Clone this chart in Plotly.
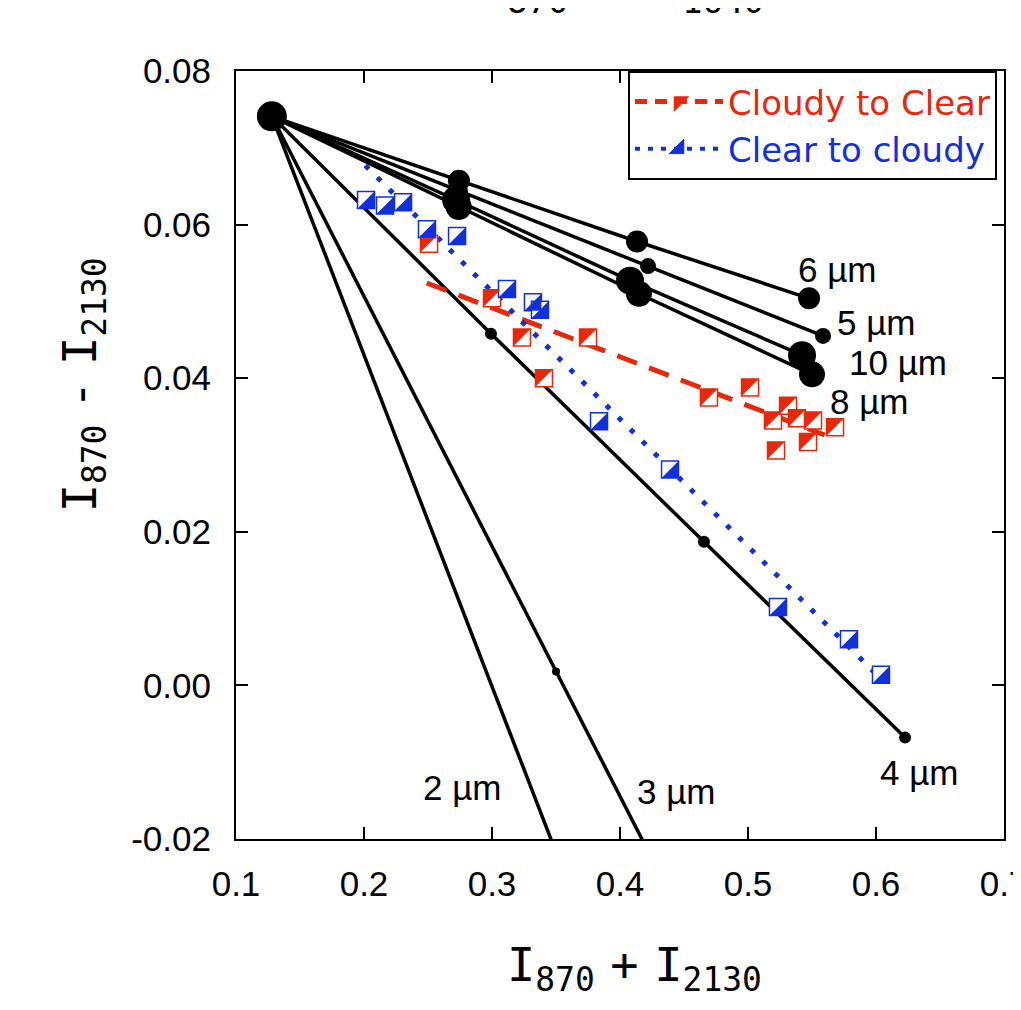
import plotly.graph_objects as go

# ---------------- data ----------------
origin_x = [0.128]
origin_y = [0.0741]

x_2um = [0.128, 0.362]
y_2um = [0.0741, -0.0269]
x_3um = [0.128, 0.350, 0.430]
y_3um = [0.0741, 0.0018, -0.0242]
x_4um = [0.128, 0.2992, 0.4656, 0.6227]
y_4um = [0.0741, 0.0458, 0.0187, -0.0068]
x_5um = [0.128, 0.2750, 0.4219, 0.5586]
y_5um = [0.0741, 0.0643, 0.0546, 0.0455]
x_6um = [0.128, 0.2742, 0.4133, 0.5477]
y_6um = [0.0741, 0.0657, 0.0578, 0.0504]
x_8um = [0.128, 0.2740, 0.4148, 0.5500]
y_8um = [0.0741, 0.0623, 0.0510, 0.0405]
x_10um = [0.128, 0.2720, 0.4078, 0.5422]
y_10um = [0.0741, 0.0632, 0.0527, 0.0430]

red_x = [0.2508, 0.3000, 0.3234, 0.3406, 0.3750, 0.4695, 0.5016, 0.5195,
         0.5313, 0.5383, 0.5508, 0.5469, 0.5219, 0.5680]
red_y = [0.0575, 0.0504, 0.0453, 0.0400, 0.0453, 0.0375, 0.0388, 0.0345,
         0.0364, 0.0348, 0.0345, 0.0317, 0.0306, 0.0336]
red_fit_x = [0.249, 0.560]
red_fit_y = [0.0524, 0.0326]

blue_x = [0.2016, 0.2164, 0.2305, 0.2492, 0.2727, 0.3117, 0.3320, 0.3375,
          0.3836, 0.4391, 0.5234, 0.5789, 0.6039]
blue_y = [0.0632, 0.0625, 0.0629, 0.0594, 0.0585, 0.0516, 0.0499, 0.0489,
          0.0344, 0.0281, 0.0102, 0.0060, 0.0014]
blue_fit_x = [0.201, 0.600]
blue_fit_y = [0.0677, 0.0015]

x_ticks = [0.1, 0.2, 0.3, 0.4, 0.5, 0.6, 0.7]
x_ticktext = ["0.1", "0.2", "0.3", "0.4", "0.5", "0.6", "0.7"]
y_ticks = [-0.02, 0.0, 0.02, 0.04, 0.06, 0.08]
y_ticktext = ["-0.02", "0.00", "0.02", "0.04", "0.06", "0.08"]

size_labels = ["2 µm", "3 µm", "4 µm", "5 µm", "6 µm", "8 µm", "10 µm"]
size_label_x = [0.2766, 0.4445, 0.6336, 0.6000, 0.5703, 0.5953, 0.6172]
size_label_y = [-0.0133, -0.0138, -0.0113, 0.0472, 0.0541, 0.0370, 0.0420]

# ---------------- style ----------------
RED = "#E6290C"
BLUE = "#1230DA"
X_RANGE = [0.1, 0.7]
Y_RANGE = [-0.02, 0.08]
PLOT_W = 768
PLOT_H = 768
SQ = 17                      # square marker size (px)
TRI = SQ / 0.9               # right-triangle marker size whose legs equal SQ
SHIFT = 0.15 * TRI           # centering offset of plotly's right-triangle symbols (px)
kx = (X_RANGE[1] - X_RANGE[0]) / PLOT_W
ky = (Y_RANGE[1] - Y_RANGE[0]) / PLOT_H

fig = go.Figure()

lines = [
    (x_2um, y_2um, 0), (x_3um, y_3um, 8), (x_4um, y_4um, 12),
    (x_5um, y_5um, 16), (x_6um, y_6um, 22), (x_8um, y_8um, 26),
    (x_10um, y_10um, 28),
]
for xs, ys, ms in lines:
    fig.add_trace(go.Scatter(
        x=xs, y=ys, mode="lines+markers" if ms else "lines",
        line=dict(color="black", width=3.5),
        marker=dict(color="black", size=ms, line=dict(width=0)),
        showlegend=False, hoverinfo="skip"))

fig.add_trace(go.Scatter(x=origin_x, y=origin_y, mode="markers",
                         marker=dict(color="black", size=30),
                         showlegend=False, hoverinfo="skip"))

fig.add_trace(go.Scatter(x=red_fit_x, y=red_fit_y, mode="lines",
                         line=dict(color=RED, width=5, dash="21px,13px"),
                         showlegend=False, hoverinfo="skip"))
fig.add_trace(go.Scatter(x=blue_fit_x, y=blue_fit_y, mode="lines",
                         line=dict(color=BLUE, width=5, dash="5px,12px"),
                         showlegend=False, hoverinfo="skip"))

# red half-filled squares
fig.add_trace(go.Scatter(x=red_x, y=red_y, mode="markers",
                         marker=dict(symbol="square", size=SQ, color="white",
                                     line=dict(color=RED, width=1.5)),
                         showlegend=False, hoverinfo="skip"))
fig.add_trace(go.Scatter(x=red_x, y=red_y, mode="markers", xaxis="x2", yaxis="y2",
                         marker=dict(symbol="triangle-nw", size=TRI, color=RED,
                                     line=dict(width=0)),
                         showlegend=False, hoverinfo="skip"))
# blue half-filled squares
fig.add_trace(go.Scatter(x=blue_x, y=blue_y, mode="markers",
                         marker=dict(symbol="square", size=SQ, color="white",
                                     line=dict(color=BLUE, width=1.5)),
                         showlegend=False, hoverinfo="skip"))
fig.add_trace(go.Scatter(x=blue_x, y=blue_y, mode="markers", xaxis="x3", yaxis="y3",
                         marker=dict(symbol="triangle-se", size=TRI, color=BLUE,
                                     line=dict(width=0)),
                         showlegend=False, hoverinfo="skip"))

# legend entries
fig.add_trace(go.Scatter(x=[None], y=[None], mode="lines+markers",
                         name=f"<span style='color:{RED}'>Cloudy to Clear</span>",
                         line=dict(color=RED, width=5, dash="12px,8px"),
                         marker=dict(symbol="triangle-nw", size=18, color=RED,
                                     line=dict(color=RED, width=1))))
fig.add_trace(go.Scatter(x=[None], y=[None], mode="lines+markers",
                         name=f"<span style='color:{BLUE}'>Clear to cloudy</span>",
                         line=dict(color=BLUE, width=4, dash="5px,8px"),
                         marker=dict(symbol="triangle-se", size=18, color=BLUE,
                                     line=dict(color=BLUE, width=1))))

axis_common = dict(showline=True, linecolor="black", linewidth=2, mirror="ticks",
                   ticks="inside", ticklen=12, tickwidth=2, tickcolor="black",
                   showgrid=False, zeroline=False, ticklabeloverflow="allow",
                   automargin=False,
                   tickfont=dict(family="Liberation Sans", size=35, color="black"))
hidden = dict(visible=False, showgrid=False, zeroline=False)

# the page body adds an 8 px offset; margins compensate so the plot box sits at 236..1004 x 71..839
fig.update_layout(
    width=1021, height=1010,
    margin=dict(l=228, r=25, t=63, b=179, pad=0, autoexpand=False),
    paper_bgcolor="white", plot_bgcolor="white",
    xaxis=dict(range=X_RANGE, tickvals=x_ticks, ticktext=x_ticktext,
               ticklabelstandoff=13, **axis_common),
    yaxis=dict(range=Y_RANGE, tickvals=y_ticks, ticktext=y_ticktext,
               ticklabelstandoff=16, **axis_common),
    xaxis2=dict(range=[X_RANGE[0] + SHIFT * kx, X_RANGE[1] + SHIFT * kx],
                overlaying="x", **hidden),
    yaxis2=dict(range=[Y_RANGE[0] - SHIFT * ky, Y_RANGE[1] - SHIFT * ky],
                overlaying="y", **hidden),
    xaxis3=dict(range=[X_RANGE[0] - SHIFT * kx, X_RANGE[1] - SHIFT * kx],
                overlaying="x", **hidden),
    yaxis3=dict(range=[Y_RANGE[0] + SHIFT * ky, Y_RANGE[1] + SHIFT * ky],
                overlaying="y", **hidden),
    legend=dict(x=0.5104, y=1, xanchor="left", yanchor="top",
                bgcolor="white", bordercolor="black", borderwidth=2,
                font=dict(family="DejaVu Sans", size=34, color="black"),
                itemwidth=88, tracegroupgap=0),
    showlegend=True,
)

annotations = []
for t, lx, ly in zip(size_labels, size_label_x, size_label_y):
    annotations.append(dict(x=lx, y=ly, xref="x", yref="y", text=t, showarrow=False,
                            xanchor="center", yanchor="middle",
                            font=dict(family="Liberation Sans", size=35, color="black")))

title_font = dict(family="DejaVu Sans Mono", size=47, color="black")
sp = "<span style='font-size:26px'> </span>"
annotations.append(dict(x=0.5195, y=-0.168, xref="paper", yref="paper",
                        text=f"I<sub>870</sub>{sp}+{sp}I<sub>2130</sub>", showarrow=False,
                        xanchor="center", yanchor="middle", font=title_font))
annotations.append(dict(x=-0.199, y=0.591, xref="paper", yref="paper",
                        text=f"I<sub>870</sub>{sp}-{sp}I<sub>2130</sub>", showarrow=False,
                        textangle=-90, xanchor="center", yanchor="middle",
                        font=title_font))
# subscripts of a title cut off at the top edge of the page
annotations.append(dict(x=0.392, y=1.091, xref="paper", yref="paper", text="870",
                        showarrow=False, xanchor="center", yanchor="middle",
                        font=dict(family="DejaVu Sans Mono", size=34, color="black")))
annotations.append(dict(x=0.634, y=1.091, xref="paper", yref="paper", text="1640",
                        showarrow=False, xanchor="center", yanchor="middle",
                        font=dict(family="DejaVu Sans Mono", size=34, color="black")))
fig.update_layout(annotations=annotations)

fig.write_html("out.html")
